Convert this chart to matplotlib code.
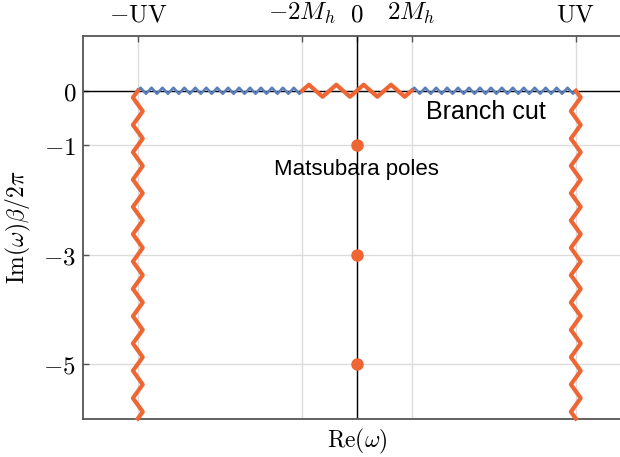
import numpy as np
import matplotlib
matplotlib.use("Agg")
import matplotlib.pyplot as plt

# ===============================================
# Complex frequency plane: branch cuts and Matsubara poles
# ===============================================

UV = 4.0
two_Mh = 1.0

# branch cut pieces along the real axis (start, end)
blue_cuts = [(-UV, -two_Mh), (two_Mh, UV)]
orange_cut = (-two_Mh, two_Mh)

# vertical UV cuts going down from the real axis
uv_cut_x = [-UV, UV]
uv_cut_y = (0.0, -6.0)

# Matsubara poles on the imaginary axis
pole_x = [0, 0, 0]
pole_y = [-1, -3, -5]

x_ticks = [-UV, -two_Mh, 0, two_Mh, UV]
x_tick_labels = [r"$-\mathrm{UV}$", r"$-2M_h$", r"$0$", r"$2M_h$", r"$\mathrm{UV}$"]
y_ticks = [0, -1, -3, -5]
y_tick_labels = [r"$0$", r"$-1$", r"$-3$", r"$-5$"]

orange = "#ee6633"
blue = "#5b7fba"

plt.rcParams["mathtext.fontset"] = "cm"


def zigzag(a, b, period, amp, sign=1.0):
    # triangle wave between a and b (just the look of the line)
    n = int(round(abs(b - a) / period * 4))
    t = np.linspace(a, b, n + 1)
    k = np.arange(n + 1) % 4
    off = np.select([k == 1, k == 3], [amp, -amp], 0.0) * sign
    return t, off


fig = plt.figure(figsize=(6.2, 4.57), dpi=100)
ax = fig.add_axes([0.134, 0.084, 0.883, 0.837])
ax.set_axisbelow(True)

ax.set_xlim(-5, 5)
ax.set_ylim(-6, 1)

ax.grid(True, color="#dcdcdc", linewidth=1.0)
ax.axhline(0, color="black", linewidth=1.0, zorder=2)
ax.axvline(0, color="black", linewidth=1.0, zorder=2)

for a, b in blue_cuts:
    t, off = zigzag(a, b, 0.2, 0.055)
    ax.plot(t, off, color=blue, linewidth=1.9, zorder=3)

t, off = zigzag(orange_cut[0], orange_cut[1], 0.5, 0.11)
ax.plot(t, off, color=orange, linewidth=3.0, zorder=3)

for xc in uv_cut_x:
    t, off = zigzag(uv_cut_y[0], uv_cut_y[1], 0.5, 0.09, sign=np.sign(xc))
    ax.plot(xc + off, t, color=orange, linewidth=3.0, zorder=3, clip_on=False)

ax.plot(pole_x, pole_y, "o", color=orange, markersize=8, zorder=4)

ax.text(1.26, -0.51, "Branch cut", fontsize=18, family="Liberation Sans",
        ha="left", va="baseline")
ax.text(0.0, -1.54, "Matsubara poles", fontsize=16, family="Liberation Sans",
        ha="center", va="baseline")

ax.xaxis.tick_top()
ax.set_xticks(x_ticks)
ax.set_xticklabels(x_tick_labels, fontsize=18)
ax.set_yticks(y_ticks)
ax.set_yticklabels(y_tick_labels, fontsize=18)
ax.tick_params(axis="x", direction="in", length=4, width=1, color="#555555", pad=7)
ax.tick_params(axis="y", direction="in", length=4, width=1, color="#555555", pad=5)

ax.set_xlabel(r"$\mathrm{Re}(\omega)$", fontsize=17, labelpad=6)
ax.xaxis.set_label_position("bottom")
ax.set_ylabel(r"$\mathrm{Im}(\omega)\beta/2\pi$", fontsize=17)
ax.yaxis.set_label_coords(-0.092, 0.5)

for s in ax.spines.values():
    s.set_color("#555555")
    s.set_linewidth(1.3)

fig.savefig("out.png", dpi=100)
plt.close()
